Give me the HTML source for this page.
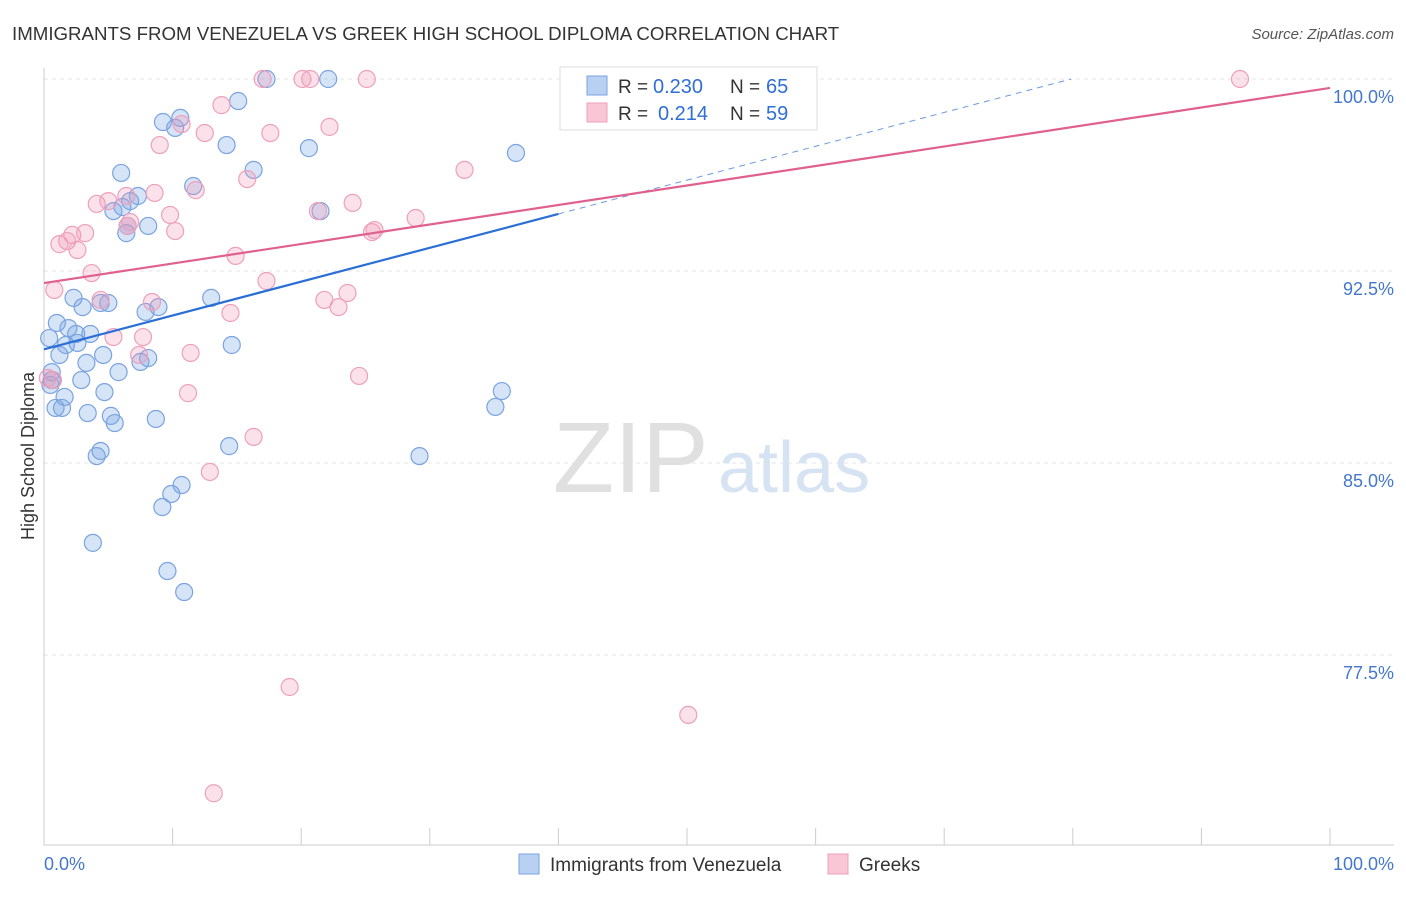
<!DOCTYPE html>
<html><head><meta charset="utf-8"><style>
body{margin:0;background:#fff;font-family:"Liberation Sans",sans-serif}
svg text{font-family:"Liberation Sans",sans-serif}
</style></head><body>
<svg width="1406" height="892" viewBox="0 0 1406 892">
<text x="12" y="40" font-size="18.7" fill="#333">IMMIGRANTS FROM VENEZUELA VS GREEK HIGH SCHOOL DIPLOMA CORRELATION CHART</text>
<text x="1394" y="39" font-size="15" fill="#555" font-style="italic" text-anchor="end">Source: ZipAtlas.com</text>
<g id="grid"></g>
<text x="553" y="492" font-size="100" fill="#e0e0e0" font-family="Liberation Serif">ZIP</text>
<text x="718" y="492" font-size="72" fill="#d6e3f3">atlas</text>
<g id="axes"></g>
<g id="pts"></g>
<g id="lines"></g>
<text transform="translate(34,456) rotate(-90)" font-size="18" fill="#333" text-anchor="middle">High School Diploma</text>
<text x="44" y="870" font-size="18" fill="#4477cc">0.0%</text>
<text x="1394" y="870" font-size="18" fill="#4477cc" text-anchor="end">100.0%</text>
<g>
<rect x="560" y="67" width="257" height="63" fill="#fff" stroke="#ddd"/>
<rect x="587" y="76" width="20" height="19" fill="#b8d0f2" stroke="#7aa3e0"/>
<rect x="587" y="103" width="20" height="19" fill="#f9c6d6" stroke="#eea0bb"/>
<text x="618" y="93" font-size="19" fill="#333">R =</text>
<text x="653" y="93" font-size="20" fill="#2f6fd6">0.230</text>
<text x="730" y="93" font-size="19" fill="#333">N =</text>
<text x="766" y="93" font-size="20" fill="#2f6fd6">65</text>
<text x="618" y="120" font-size="19" fill="#333">R =</text>
<text x="658" y="120" font-size="20" fill="#2f6fd6">0.214</text>
<text x="730" y="120" font-size="19" fill="#333">N =</text>
<text x="766" y="120" font-size="20" fill="#2f6fd6">59</text>
</g>
<g>
<rect x="519" y="854" width="20" height="20" fill="#b8d0f2" stroke="#7aa3e0"/>
<text x="550" y="871" font-size="19" fill="#333">Immigrants from Venezuela</text>
<rect x="828" y="854" width="20" height="20" fill="#f9c6d6" stroke="#eea0bb"/>
<text x="859" y="871" font-size="19" fill="#333">Greeks</text>
</g>
</svg>
<script>
const yTicks=[100,92.5,85,77.5];
const yTickLabels=["100.0%","92.5%","85.0%","77.5%"];
const xTicks=[0,10,20,30,40,50,60,70,80,90,100];
const blueX=[17.3,22.1,15.1,10.6,9.25,10.2,14.2,20.6,36.7,6.0,16.3,11.6,7.3,6.7,6.1,5.4,21.5,8.1,6.5,6.4,2.3,3.0,4.4,5.0,13.0,8.9,7.9,1.0,1.9,3.6,2.5,0.4,1.7,2.6,14.6,1.2,4.6,8.1,7.5,3.3,5.8,2.9,0.6,0.5,4.7,1.6,35.6,35.1,0.9,1.4,3.4,5.2,5.5,8.7,14.4,4.4,4.1,29.2,10.7,9.9,9.2,3.8,9.6,10.9,0.6];
const blueY=[100,100,99.14,98.48,98.32,98.09,97.42,97.30,97.11,96.33,96.45,95.82,95.43,95.23,95.0,94.84,94.84,94.26,94.26,93.98,91.45,91.09,91.25,91.25,91.45,91.09,90.90,90.47,90.27,90.04,90.04,89.88,89.61,89.69,89.61,89.22,89.22,89.10,88.95,88.91,88.55,88.24,88.24,88.05,87.77,87.58,87.81,87.19,87.15,87.15,86.95,86.84,86.56,86.72,85.66,85.47,85.27,85.27,84.14,83.79,83.28,81.88,80.78,79.96,88.55];
const pinkX=[17.0,20.1,20.7,25.1,41.1,51.8,93.0,13.8,10.7,22.2,12.5,17.6,9.0,32.7,15.8,11.8,8.6,6.4,4.1,5.0,24.0,21.3,9.8,28.9,6.7,25.7,25.5,6.5,10.2,2.2,3.2,1.8,1.2,2.6,14.9,3.7,17.3,0.8,23.6,21.8,22.9,4.4,8.4,14.5,5.4,7.7,11.4,7.4,24.5,0.3,0.7,11.2,16.3,12.9,19.1,50.1,13.2];
const pinkY=[100,100,100,100,100,100,100,98.98,98.24,98.13,97.89,97.89,97.42,96.45,96.09,95.66,95.55,95.43,95.12,95.23,95.16,94.84,94.69,94.57,94.41,94.10,94.02,94.26,94.06,93.91,93.98,93.67,93.55,93.32,93.09,92.42,92.11,91.76,91.64,91.37,91.09,91.37,91.29,90.86,89.92,89.92,89.30,89.22,88.40,88.32,88.24,87.73,86.02,84.65,76.25,75.16,72.1];
const blueTrend=[89.44,0.1322];
const pinkTrend=[92.03,0.0762];
const NS="http://www.w3.org/2000/svg";
const X=v=>44+v*12.86, Y=v=>79+(100-v)*25.6;
function mk(tag,attrs,parent){const e=document.createElementNS(NS,tag);for(const k in attrs)e.setAttribute(k,attrs[k]);parent.appendChild(e);return e;}
const grid=document.getElementById('grid'),axes=document.getElementById('axes'),pts=document.getElementById('pts'),lines=document.getElementById('lines');
yTicks.forEach((t,i)=>{
 const l=mk('line',{x1:44,x2:1394,y1:Y(t),y2:Y(t),stroke:'#e6e6e6','stroke-dasharray':'4,4'},grid);
 
 
 const tx=mk('text',{x:1394,y:Y(t)+24,'font-size':18,fill:'#4477cc','text-anchor':'end'},axes);
 tx.textContent=yTickLabels[i];
 
 
});
mk('line',{x1:44,x2:44,y1:68,y2:845,stroke:'#ccc'},axes);
mk('line',{x1:44,x2:1394,y1:845,y2:845,stroke:'#ccc'},axes);
xTicks.forEach(t=>{
 const l=mk('line',{x1:X(t),x2:X(t),y1:828,y2:845,stroke:'#ccc'},axes);
 
 
});
function dots(xs,ys,fill,stroke,name){xs.forEach((x,i)=>{
 const c=mk('circle',{cx:X(x),cy:Y(ys[i]),r:8.5,fill:fill,stroke:stroke,'stroke-width':1.2},pts);
 
 
});}
dots(blueX,blueY,'rgba(120,165,230,0.3)','#7aa3e0','venezuela-point');
dots(pinkX,pinkY,'rgba(240,150,180,0.28)','#eea0bb','greek-point');
const b1=mk('line',{x1:X(0),y1:Y(blueTrend[0]),x2:X(40),y2:Y(blueTrend[0]+40*blueTrend[1]),stroke:'#2a6fd6','stroke-width':2.2},lines);


const xe=(100-blueTrend[0])/blueTrend[1];
const b2=mk('line',{x1:X(40),y1:Y(blueTrend[0]+40*blueTrend[1]),x2:X(xe),y2:Y(100),stroke:'#6a9ae0','stroke-width':1,'stroke-dasharray':'6,5'},lines);


const p1=mk('line',{x1:X(0),y1:Y(pinkTrend[0]),x2:X(100),y2:Y(pinkTrend[0]+100*pinkTrend[1]),stroke:'#e0608e','stroke-width':2.2},lines);


</script>
</body></html>
